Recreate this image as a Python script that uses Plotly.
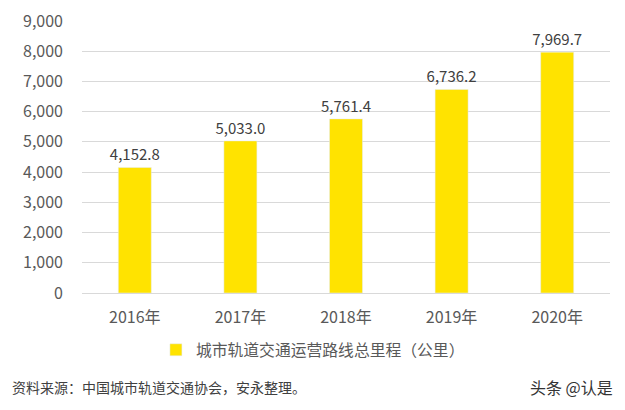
import plotly.graph_objects as go

years = ["2016年", "2017年", "2018年", "2019年", "2020年"]
mileage = [4152.8, 5033.0, 5761.4, 6736.2, 7969.7]
y_ticks = [0, 1000, 2000, 3000, 4000, 5000, 6000, 7000, 8000, 9000]

font_family = "Noto Sans CJK SC, Noto Sans, sans-serif"

fig = go.Figure(go.Bar(
    x=years,
    y=mileage,
    name="城市轨道交通运营路线总里程（公里）",
    marker=dict(color="#FFE300"),
    text=[f"{v:,.1f}" for v in mileage],
    textposition="outside",
    constraintext="none",
    textfont=dict(size=15, color="#404040"),
    cliponaxis=False,
))

# the page body has an 8px margin, so the figure is 8px smaller than the window
fig.update_layout(
    width=617, height=402,
    margin=dict(l=74, r=15, t=13, b=117),
    paper_bgcolor="white",
    plot_bgcolor="white",
    font=dict(family=font_family, color="#595959"),
    bargap=0.6875,
    showlegend=True,
    legend=dict(
        orientation="h", x=0.14, xanchor="left", y=-0.2096, yanchor="middle",
        font=dict(size=15.8, color="#595959"),
        itemwidth=30,
    ),
    xaxis=dict(
        tickfont=dict(size=16, color="#595959"),
        showline=True, linecolor="#d9d9d9", linewidth=1,
        ticks="", ticklabelstandoff=10,
        automargin=False,
    ),
    yaxis=dict(
        range=[0, 9000],
        tickvals=y_ticks,
        tickformat=",d",
        tickfont=dict(size=16, color="#595959"),
        showgrid=True, gridcolor="#d9d9d9", gridwidth=1,
        zeroline=False,
        ticklabelstandoff=18,
        ticklabeloverflow="allow",
        automargin=False,
    ),
    annotations=[
        dict(text="资料来源：中国城市轨道交通协会，安永整理。", xref="paper", yref="paper",
             x=-0.136, y=-0.3456, xanchor="left", yanchor="middle", showarrow=False,
             font=dict(size=14, color="#404040")),
        dict(text="头条 @认是", xref="paper", yref="paper",
             x=1.0095, y=-0.3456, xanchor="right", yanchor="middle", showarrow=False,
             font=dict(size=16, color="#333333")),
    ],
)

fig.write_html("out.html")
